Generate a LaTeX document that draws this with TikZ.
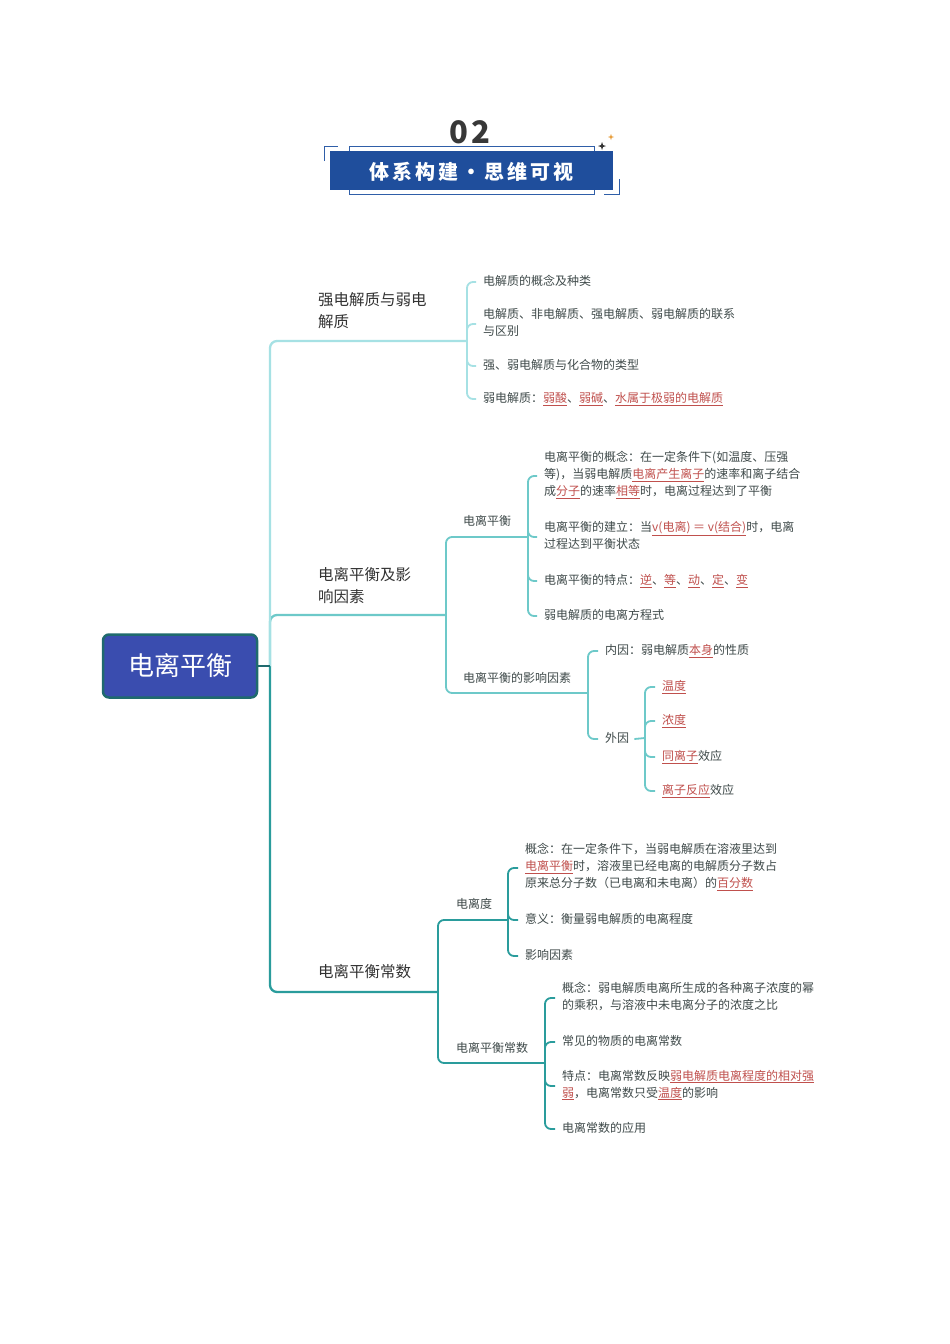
\documentclass[tikz,border=0pt]{standalone}
\usepackage{fontspec}
\setmainfont{Noto Sans CJK SC}
\definecolor{cA}{HTML}{A6E1E4}
\definecolor{cB}{HTML}{6DC9C9}
\definecolor{cC}{HTML}{2A9C9C}
\definecolor{rootfill}{HTML}{3A4DAF}
\definecolor{rootdraw}{HTML}{1F6A6E}
\definecolor{hlred}{HTML}{C0504D}
\definecolor{txt}{HTML}{3F4A4A}
\definecolor{banner}{HTML}{1F4E9C}
\definecolor{frame}{HTML}{2F5EA8}
\definecolor{starO}{HTML}{E8A040}
\newcommand\hl[1]{\textcolor{hlred}{\underline{#1}}}
\tikzset{
  leaf/.style={anchor=west, inner sep=0pt, align=left, yshift=-1pt, font=\fontsize{12}{17}\selectfont, text=txt,
    execute at begin node=\strut, execute at end node=\strut},
  sublabel/.style={anchor=west, inner sep=0pt, yshift=-1pt, font=\fontsize{12}{17}\selectfont, text=txt,
    execute at begin node=\strut},
  toplabel/.style={anchor=west, inner sep=0pt, align=left, yshift=-1pt, font=\fontsize{15.5}{22}\selectfont, text=black!80},
  conA/.style={draw=cA, line width=2.3pt, rounded corners=7pt},
  conB/.style={draw=cB, line width=2.3pt, rounded corners=7pt},
  conC/.style={draw=cC, line width=2.3pt, rounded corners=7pt},
  subA/.style={draw=cA, line width=1.8pt, rounded corners=6pt},
  subB/.style={draw=cB, line width=1.8pt, rounded corners=6pt},
  subC/.style={draw=cC, line width=1.8pt, rounded corners=6pt},
  rootbox/.style={fill=rootfill, draw=rootdraw, line width=2.5pt, rounded corners=6pt,
    minimum width=154pt, minimum height=63pt, text=white, font=\fontsize{26}{30}\selectfont},
}
\begin{document}
\begin{tikzpicture}[x=1pt,y=-1pt]
\useasboundingbox (0,0) rectangle (950,1344);
\fill[white] (0,0) rectangle (950,1344);

% ---------- header ----------
\node[inner sep=0pt, text=black!78, font=\fontsize{31}{34}\selectfont\bfseries\addfontfeatures{LetterSpace=8}] (num) at (470,132) {02};
\draw[frame, line width=0.9pt] (349,146) rectangle (594,194);
\fill[banner] (330,151) rectangle (613,190);
\draw[frame, line width=0.9pt] (324,161) -- (324,146) -- (338,146);
\draw[frame, line width=0.9pt] (604,194) -- (619,194) -- (619,179);
\node[inner sep=0pt, text=white, font=\fontsize{20}{24}\selectfont\bfseries\addfontfeatures{LetterSpace=15}] (title) at (471,172) {体系构建・思维可视};
\fill[black!80, shift={(602,146)}] (0,-4)--(1,-1)--(4,0)--(1,1)--(0,4)--(-1,1)--(-4,0)--(-1,-1)--cycle;
\fill[starO, shift={(611,137)}] (0,-3)--(0.8,-0.8)--(3,0)--(0.8,0.8)--(0,3)--(-0.8,0.8)--(-3,0)--(-0.8,-0.8)--cycle;

% ---------- junctions ----------
\coordinate (T) at (270,666);
\coordinate (bA) at (467,341);
\coordinate (bB) at (446,615);
\coordinate (bB1) at (528,537);
\coordinate (bB2) at (588,693);
\coordinate (bB3) at (645,738);
\coordinate (bC) at (438,992);
\coordinate (bC1) at (508,920);
\coordinate (bC2) at (545,1063);

% ---------- nodes ----------
\node[rootbox] (R) at (180,666) {电离平衡};

\node[toplabel] (A) at (318,310) {强电解质与弱电\\解质};
\node[leaf] (a1) at (483,281) {电解质的概念及种类};
\node[leaf] (a2) at (483,323) {电解质、非电解质、强电解质、弱电解质的联系\\与区别};
\node[leaf] (a3) at (483,365) {强、弱电解质与化合物的类型};
\node[leaf] (a4) at (483,398) {弱电解质：\hl{弱酸}、\hl{弱碱}、\hl{水属于极弱的电解质}};

\node[toplabel] (B) at (318,585) {电离平衡及影\\响因素};
\node[sublabel] (B1) at (463,521) {电离平衡};
\node[leaf] (b11) at (544,475) {电离平衡的概念：在一定条件下(如温度、压强\\等)，当弱电解质\hl{电离产生离子}的速率和离子结合\\成\hl{分子}的速率\hl{相等}时，电离过程达到了平衡};
\node[leaf] (b12) at (544,536) {电离平衡的建立：当\hl{v(电离) ＝ v(结合)}时，电离\\过程达到平衡状态};
\node[leaf] (b13) at (544,580) {电离平衡的特点：\hl{逆}、\hl{等}、\hl{动}、\hl{定}、\hl{变}};
\node[leaf] (b14) at (544,615) {弱电解质的电离方程式};
\node[sublabel] (B2) at (463,678) {电离平衡的影响因素};
\node[leaf] (b21) at (605,650) {内因：弱电解质\hl{本身}的性质};
\node[sublabel] (b22) at (605,738) {外因};
\node[leaf] (b31) at (662,686) {\hl{温度}};
\node[leaf] (b32) at (662,720) {\hl{浓度}};
\node[leaf] (b33) at (662,756) {\hl{同离子}效应};
\node[leaf] (b34) at (662,790) {\hl{离子反应}效应};

\node[toplabel] (C) at (318,971) {电离平衡常数};
\node[sublabel] (C1) at (456,904) {电离度};
\node[leaf] (c11) at (525,867) {概念：在一定条件下，当弱电解质在溶液里达到\\\hl{电离平衡}时，溶液里已经电离的电解质分子数占\\原来总分子数（已电离和未电离）的\hl{百分数}};
\node[leaf] (c12) at (525,919) {意义：衡量弱电解质的电离程度};
\node[leaf] (c13) at (525,955) {影响因素};
\node[sublabel] (C2) at (456,1048) {电离平衡常数};
\node[leaf] (c21) at (562,997) {概念：弱电解质电离所生成的各种离子浓度的幂\\的乘积，与溶液中未电离分子的浓度之比};
\node[leaf] (c22) at (562,1041) {常见的物质的电离常数};
\node[leaf] (c23) at (562,1085) {特点：电离常数反映\hl{弱电解质电离程度的相对强}\\\hl{弱}，电离常数只受\hl{温度}的影响};
\node[leaf] (c24) at (562,1128) {电离常数的应用};

% ---------- connectors ----------
\draw[conC] (T) |- (bC);
\draw[conB] (T) |- (bB);
\draw[conA] (T) |- (bA);
\draw[draw=rootdraw, line width=2.3pt] (R.east) -- (T);

\foreach \n in {a1,a2,a3,a4} \draw[subA] (bA) |- ([xshift=-7pt]\n.west);

\draw[subB] (bB) |- (bB1);
\draw[subB] (bB) |- (bB2);
\foreach \n in {b11,b12,b13,b14} \draw[subB] (bB1) |- ([xshift=-7pt]\n.west);
\draw[subB] (bB2) |- ([xshift=-7pt]b21.west);
\draw[subB] (bB2) |- ([xshift=-7pt]b22.west);
\draw[subB] ([xshift=5pt]b22.east) -- (bB3);
\foreach \n in {b31,b32,b33,b34} \draw[subB] (bB3) |- ([xshift=-7pt]\n.west);

\draw[subC] (bC) |- (bC1);
\draw[subC] (bC) |- (bC2);
\foreach \n in {c11,c12,c13} \draw[subC] (bC1) |- ([xshift=-7pt]\n.west);
\foreach \n in {c21,c22,c23,c24} \draw[subC] (bC2) |- ([xshift=-7pt]\n.west);
\end{tikzpicture}
\end{document}
